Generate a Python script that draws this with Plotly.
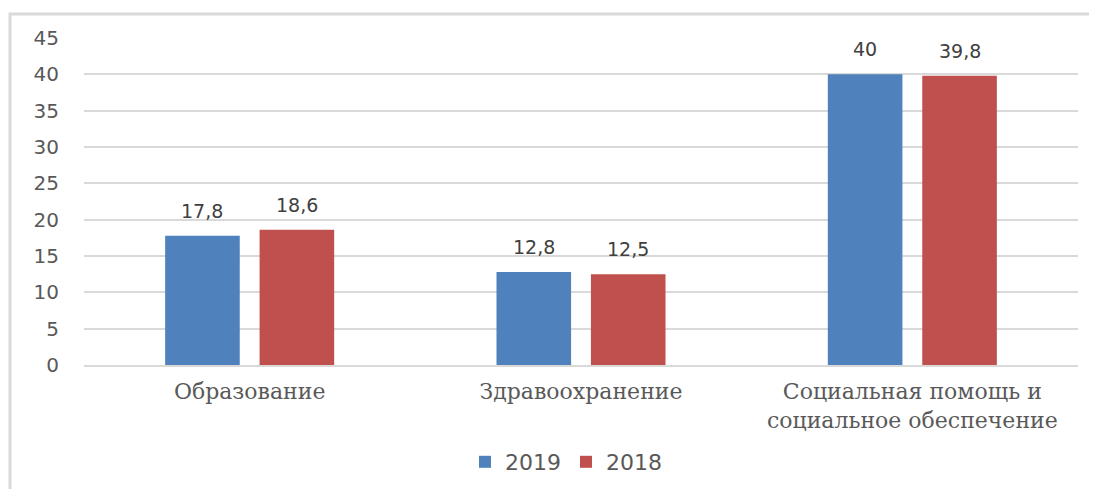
import plotly.graph_objects as go

categories = ["Образование", "Здравоохранение", "Социальная помощь и<br>социальное обеспечение"]
values_2019 = [17.8, 12.8, 40]
values_2018 = [18.6, 12.5, 39.8]
series_names = ["2019", "2018"]
y_ticks = [0, 5, 10, 15, 20, 25, 30, 35, 40, 45]

# page has an 8px body margin; figure size compensates
W, H = 1089, 481
L, R, T, B = 76, 19, 30, 124
pw, ph = W - L - R, H - T - B
bargap, bargroupgap = 0.43, 0.21
slot = pw / len(categories) * (1 - bargap) / 2

fig = go.Figure()
colors = ["#4F81BD", "#C0504D"]
for i, (name, vals) in enumerate(zip(series_names, [values_2019, values_2018])):
    fig.add_trace(go.Bar(
        x=categories, y=vals, name=name, marker_color=colors[i],
        marker_line_width=0,
    ))
    for c, v in zip(categories, vals):
        fig.add_annotation(
            x=c, y=v, xref="x", yref="y", text=f"{v:g}".replace(".", ","),
            showarrow=False, yanchor="bottom", yshift=12,
            xshift=(i - 0.5) * slot,
            font=dict(family="DejaVu Sans", size=19, color="#404040"),
        )

fx0 = (2 - L) / pw
fy1 = (H - B - 6) / ph
fig.add_shape(type="rect", xref="paper", yref="paper",
              x0=fx0, x1=1.2, y0=-0.6, y1=fy1,
              line=dict(color="#d9d9d9", width=3), layer="below")

fig.update_layout(
    width=W, height=H,
    margin=dict(l=L, r=R, t=T, b=B, autoexpand=False),
    paper_bgcolor="white", plot_bgcolor="white",
    separators=", ",
    barmode="group", bargap=bargap, bargroupgap=bargroupgap,
    showlegend=True,
    legend=dict(orientation="h", x=(558 - L) / pw, xanchor="center",
                y=(H - B - 454) / ph, yanchor="middle",
                font=dict(family="DejaVu Sans", size=22, color="#595959"),
                traceorder="normal"),
    xaxis=dict(showgrid=False, showline=True, linecolor="#d9d9d9", linewidth=1.5,
               ticks="", ticklabelstandoff=6,
               tickfont=dict(family="DejaVu Serif", size=22, color="#595959")),
    yaxis=dict(range=[0, 45], tickvals=y_ticks, showgrid=True, gridcolor="#d9d9d9",
               gridwidth=1.5, zeroline=False, showline=False, ticks="",
               ticklabelstandoff=24,
               tickfont=dict(family="DejaVu Sans", size=20, color="#595959")),
)

fig.write_html("out.html")
